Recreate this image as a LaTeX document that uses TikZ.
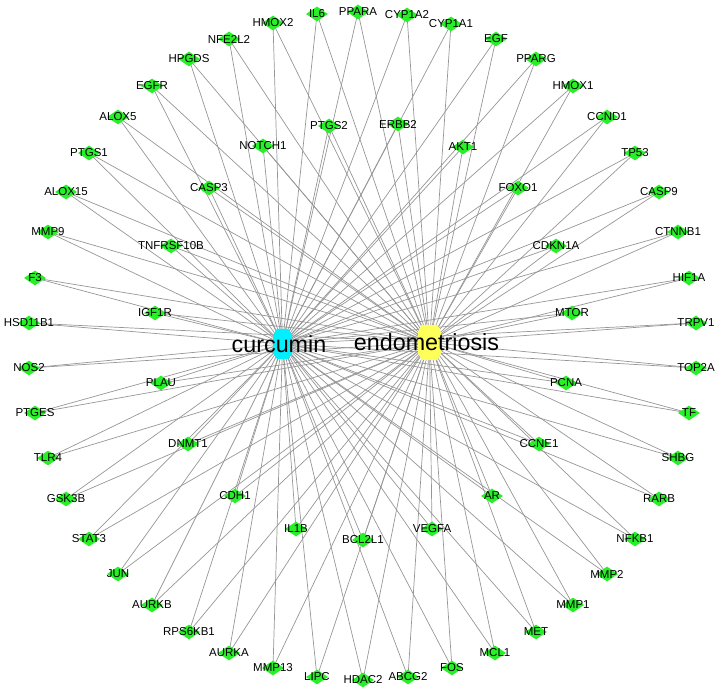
\documentclass[tikz,border=0pt]{standalone}
\usepackage{fontspec}
\setmainfont{Liberation Sans}
\usetikzlibrary{shapes.geometric}
\pgfdeclarelayer{bg}
\pgfsetlayers{bg,main}
\definecolor{genegreen}{RGB}{40,240,40}
\definecolor{edgegray}{RGB}{150,150,150}
\definecolor{hubcyan}{RGB}{0,240,255}
\definecolor{hubyellow}{RGB}{255,255,90}
\tikzset{
  gene/.style={diamond, fill=genegreen, draw=none, minimum width=22pt, minimum height=15pt, inner sep=0pt},
  genelabel/.style={font=\fontsize{11.5}{13}\selectfont, text=black, inner sep=0pt},
  hub/.style={rectangle, draw=none, fill=none, inner sep=0pt},
  hublabel/.style={font=\fontsize{23.3}{27}\selectfont, text=black, inner sep=0pt},
  edge/.style={draw=edgegray, line width=0.7pt}
}
\newcommand\genenode[2]{\node[gene, label={[genelabel]center:#1}] (#1) at (#2) {};}
% octagon: centre, half width, half height, chamfer x, chamfer y, colour
\newcommand\hubshape[6]{\fill[#6, shift={(#1)}] (-#2+#4,-#3) -- (#2-#4,-#3) -- (#2,-#3+#5) -- (#2,#3-#5) -- (#2-#4,#3) -- (-#2+#4,#3) -- (-#2,#3-#5) -- (-#2,-#3+#5) -- cycle;}
\begin{document}
\begin{tikzpicture}[x=1pt, y=-1pt]
\useasboundingbox (0,0) rectangle (720,692);
% hubs
\hubshape{282.5,344}{9.5}{15}{4}{6}{hubcyan}
\node[hub, minimum width=19pt, minimum height=30pt, label={[hublabel, xshift=-3.5pt]center:curcumin}] (curcumin) at (282.5,344) {};
\hubshape{429.5,342.5}{11.5}{17.5}{3.5}{7}{hubyellow}
\node[hub, minimum width=23pt, minimum height=35pt, label={[hublabel, xshift=-3pt]center:endometriosis}] (endometriosis) at (429.5,342.5) {};
% outer ring
\genenode{NFE2L2}{229,39}
\genenode{HPGDS}{189,59}
\genenode{EGFR}{152,86}
\genenode{ALOX5}{118,117}
\genenode{PTGS1}{89,153}
\genenode{ALOX15}{66,192}
\genenode{MMP9}{48,232}
\genenode{F3}{35,278}
\genenode{HSD11B1}{29,323}
\genenode{NOS2}{29,368}
\genenode{PTGES}{35,413}
\genenode{TLR4}{48,458}
\genenode{GSK3B}{66,499}
\genenode{STAT3}{89,539}
\genenode{JUN}{118,574}
\genenode{AURKB}{152,605}
\genenode{RPS6KB1}{189,632}
\genenode{AURKA}{229,653}
\genenode{MMP13}{273,668}
\genenode{LIPC}{317,677}
\genenode{HDAC2}{363,680}
\genenode{ABCG2}{408,677}
\genenode{FOS}{452,668}
\genenode{MCL1}{495,653}
\genenode{MET}{536,632}
\genenode{MMP1}{573,605}
\genenode{MMP2}{607,574}
\genenode{NFKB1}{635,539}
\genenode{RARB}{659,499}
\genenode{SHBG}{678,458}
\genenode{TF}{689,413}
\genenode{TOP2A}{696,368}
\genenode{TRPV1}{696,323}
\genenode{HIF1A}{689,278}
\genenode{CTNNB1}{678,232}
\genenode{CASP9}{659,192}
\genenode{TP53}{635,153}
\genenode{CCND1}{607,117}
\genenode{HMOX1}{573,86}
\genenode{PPARG}{536,59}
\genenode{EGF}{496,39}
\genenode{CYP1A1}{451,24}
\genenode{CYP1A2}{407,15}
\genenode{PPARA}{358,12}
\genenode{IL6}{317,14}
\genenode{HMOX2}{273,23}
% inner ring
\genenode{CASP3}{209,188}
\genenode{NOTCH1}{263,146}
\genenode{PTGS2}{329,126}
\genenode{ERBB2}{398,124}
\genenode{AKT1}{463,147}
\genenode{FOXO1}{518,188}
\genenode{CDKN1A}{556,246}
\genenode{MTOR}{572,313}
\genenode{PCNA}{566,383}
\genenode{CCNE1}{539,444}
\genenode{AR}{492,496}
\genenode{VEGFA}{432,529}
\genenode{BCL2L1}{363,540}
\genenode{IL1B}{296,529}
\genenode{CDH1}{235,496}
\genenode{DNMT1}{188,444}
\genenode{PLAU}{161,383}
\genenode{IGF1R}{155,313}
\genenode{TNFRSF10B}{171,246}
% edges
\begin{pgfonlayer}{bg}
\foreach \g in {NFE2L2,HPGDS,EGFR,ALOX5,PTGS1,ALOX15,MMP9,F3,HSD11B1,NOS2,PTGES,TLR4,GSK3B,STAT3,JUN,AURKB,RPS6KB1,AURKA,MMP13,LIPC,HDAC2,ABCG2,FOS,MCL1,MET,MMP1,MMP2,NFKB1,RARB,SHBG,TF,TOP2A,TRPV1,HIF1A,CTNNB1,CASP9,TP53,CCND1,HMOX1,PPARG,EGF,CYP1A1,CYP1A2,PPARA,IL6,HMOX2,CASP3,NOTCH1,PTGS2,ERBB2,AKT1,FOXO1,CDKN1A,MTOR,PCNA,CCNE1,AR,VEGFA,BCL2L1,IL1B,CDH1,DNMT1,PLAU,IGF1R,TNFRSF10B}{
  \draw[edge] (curcumin.center) -- (\g.center);
  \draw[edge] (endometriosis.center) -- (\g.center);
}
\end{pgfonlayer}
\end{tikzpicture}
\end{document}
